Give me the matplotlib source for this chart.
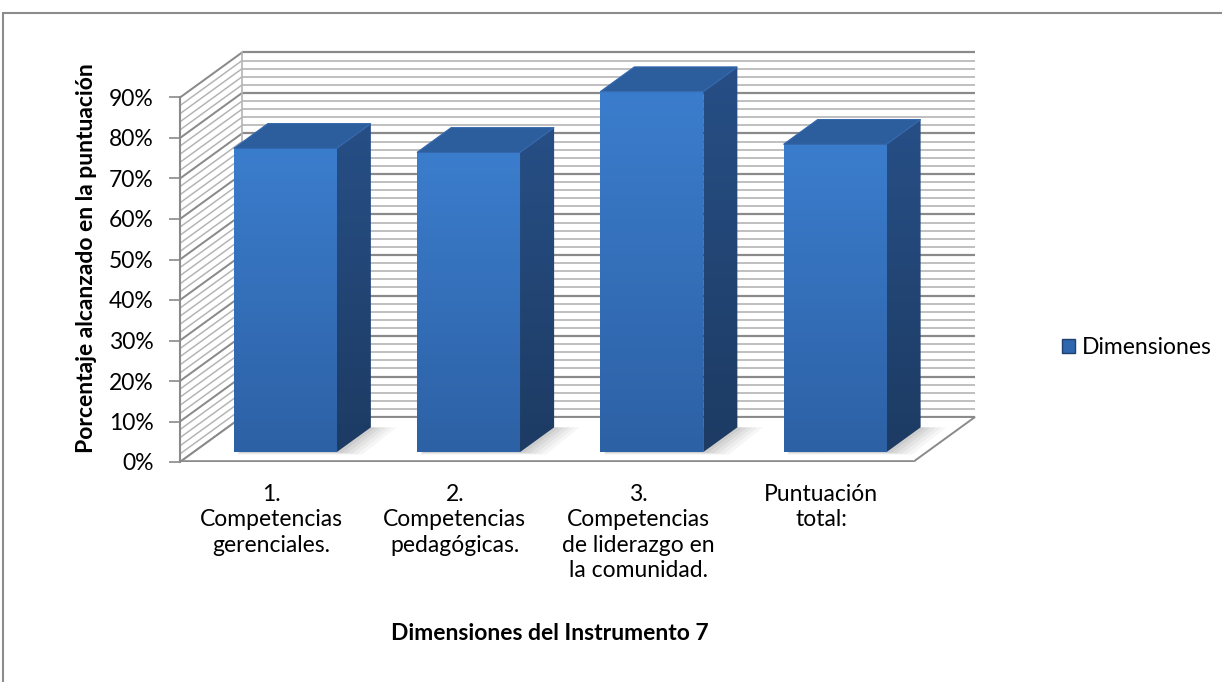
import numpy as np
import matplotlib
matplotlib.use("Agg")
import matplotlib.pyplot as plt
from matplotlib.patches import Polygon, Rectangle, Patch
from matplotlib.colors import to_rgb

# ---- data ----
categories = [
    "1.\nCompetencias\ngerenciales.",
    "2.\nCompetencias\npedagógicas.",
    "3.\nCompetencias\nde liderazgo en\nla comunidad.",
    "Puntuación\ntotal:",
]
values = [75, 74, 89, 76]
series_name = "Dimensiones"
y_ticks = list(range(0, 91, 10))
y_tick_labels = [f"{t}%" for t in y_ticks]
x_title = "Dimensiones del Instrumento 7"
y_title = "Porcentaje alcanzado en la puntuación"

plt.rcParams["font.family"] = ["Lato", "DejaVu Sans"]
FS = 16.5
GRID_MAJOR = "#8a8a8a"
GRID_MINOR = "#b4b4b4"
AXIS_COL = "#8a8a8a"

W, H = 1222, 682
fig = plt.figure(figsize=(W / 100, H / 100), dpi=100)

# plot-area geometry (pixels)
x_left_px, x_step_px = 180, 183.25
y_base_px, y_unit_px = 462, 4.05
depth_dx_px, depth_dy_px = 62, 45
xmin, xmax = -0.5, 4.0
ymin, ymax = 0, 104
ax_w_px = (xmax - xmin) * x_step_px
ax_h_px = (ymax - ymin) * y_unit_px
ax = fig.add_axes([x_left_px / W, (H - y_base_px) / H, ax_w_px / W, ax_h_px / H])

DX = depth_dx_px / x_step_px      # depth offset in category units
DY = depth_dy_px / y_unit_px      # depth offset in percent units
n = len(categories)
x0, x1 = -0.5, n - 0.5
top = y_ticks[-1]

# ---- walls ----
for v in np.arange(0, top + 1, 2):
    major = (v % 10 == 0)
    col = GRID_MAJOR if major else GRID_MINOR
    lw = 1.6 if major else 1.2
    ax.plot([x0 + DX, x1 + DX], [v + DY, v + DY], color=col, lw=lw,
            zorder=1, solid_capstyle="butt")
    ax.plot([x0, x0 + DX], [v, v + DY], color=col, lw=lw * 0.9,
            zorder=1, solid_capstyle="butt")
ax.plot([x0 + DX, x0 + DX], [DY, top + DY], color=GRID_MINOR, lw=1.2, zorder=1)

# ---- floor ----
floor = Polygon([(x0, 0), (x1, 0), (x1 + DX, DY), (x0 + DX, DY)], closed=True,
                fc="white", ec=AXIS_COL, lw=1.4, zorder=1.5)
ax.add_patch(floor)
ax.plot([x0, x1], [0, 0], color=AXIS_COL, lw=2.6, zorder=1.6,
        solid_capstyle="butt")


def gradient_fill(verts, c_bottom, c_top, zorder, alpha=1.0):
    poly = Polygon(verts, closed=True, fc="none", ec="none")
    ax.add_patch(poly)
    xs = [p[0] for p in verts]
    ys = [p[1] for p in verts]
    t = np.linspace(0, 1, 256)[:, None, None]
    cb = np.array(to_rgb(c_bottom))[None, None, :]
    ct = np.array(to_rgb(c_top))[None, None, :]
    arr = cb * (1 - t) + ct * t
    arr = np.repeat(arr, 2, axis=1)
    im = ax.imshow(arr, extent=(min(xs), max(xs), min(ys), max(ys)),
                   origin="lower", aspect="auto", zorder=zorder,
                   interpolation="bilinear", alpha=alpha)
    im.set_clip_path(poly)
    return im


# ---- bars ----
hw = 103 / x_step_px / 2
d0, d1 = 0.22, 0.77
for i, v in enumerate(values):
    fl = i - hw + d0 * DX
    fr = i + hw + d0 * DX
    br = i + hw + d1 * DX
    bl = i - hw + d1 * DX
    yb0, yb1 = d0 * DY, d1 * DY

    # soft floor shadow
    for k, a in zip(range(5), [0.05, 0.05, 0.06, 0.07, 0.08]):
        s = 0.14 * (1 - k / 5)
        shadow = Polygon([(fl + 0.02, yb0 - 0.6 * (1 - k / 5)),
                          (fr + s, yb0 - 0.6 * (1 - k / 5)),
                          (br + s, yb1), (bl, yb1)],
                         closed=True, fc="#505050", ec="none", alpha=a, zorder=2)
        ax.add_patch(shadow)

    # side face
    gradient_fill([(fr, yb0), (br, yb1), (br, v + yb1), (fr, v + yb0)],
                  "#1d3b63", "#274f86", zorder=3)
    # front face
    gradient_fill([(fl, yb0), (fr, yb0), (fr, v + yb0), (fl, v + yb0)],
                  "#2d61a5", "#3b7dcd", zorder=3)
    # top face
    ax.add_patch(Polygon([(fl, v + yb0), (fr, v + yb0), (br, v + yb1), (bl, v + yb1)],
                         closed=True, fc="#2c5e9d", ec="#3468ad", lw=0.8, zorder=3.5))

# ---- axes styling ----
for side in ("top", "right", "bottom"):
    ax.spines[side].set_visible(False)
ax.spines["left"].set_bounds(0, top)
ax.spines["left"].set_color(AXIS_COL)
ax.spines["left"].set_linewidth(1.5)
ax.spines["left"].set_zorder(2)

ax.set_yticks(y_ticks, y_tick_labels)
ax.tick_params(axis="y", length=8, width=1.2, color=AXIS_COL, pad=11,
               labelsize=FS, labelcolor="black")
ax.set_xticks(range(n), categories)
ax.tick_params(axis="x", length=0, pad=16, labelsize=FS, labelcolor="black")
for lbl in ax.get_xticklabels():
    lbl.set_linespacing(1.25)

ax.set_ylabel(y_title, fontsize=FS, fontweight="bold", va="center", ha="center")
ax.yaxis.set_label_coords((87 - x_left_px) / ax_w_px, (y_base_px - 258) / ax_h_px)
ax.set_xlabel(x_title, fontsize=FS, fontweight="bold", va="center", ha="center")
ax.xaxis.set_label_coords((550 - x_left_px) / ax_w_px, (y_base_px - 633) / ax_h_px)

ax.set_xlim(xmin, xmax)
ax.set_ylim(ymin, ymax)
ax.set_facecolor("none")

# ---- legend ----
fig.legend(handles=[Patch(fc="#2f66ad", ec="#1f416e", lw=1.0)], labels=[series_name],
           loc="center left", bbox_to_anchor=(1062 / W, 1 - 348 / H),
           frameon=False, fontsize=FS, handlelength=0.55, handleheight=0.55,
           handletextpad=0.3, borderpad=0, borderaxespad=0)

# ---- chart frame ----
fig.add_artist(Rectangle((3 / W, -0.05), 1.1, 1 - 13 / H + 0.05,
                         transform=fig.transFigure, fill=False,
                         ec="#8c8c8c", lw=1.5))

fig.savefig("out.png", dpi=100)
